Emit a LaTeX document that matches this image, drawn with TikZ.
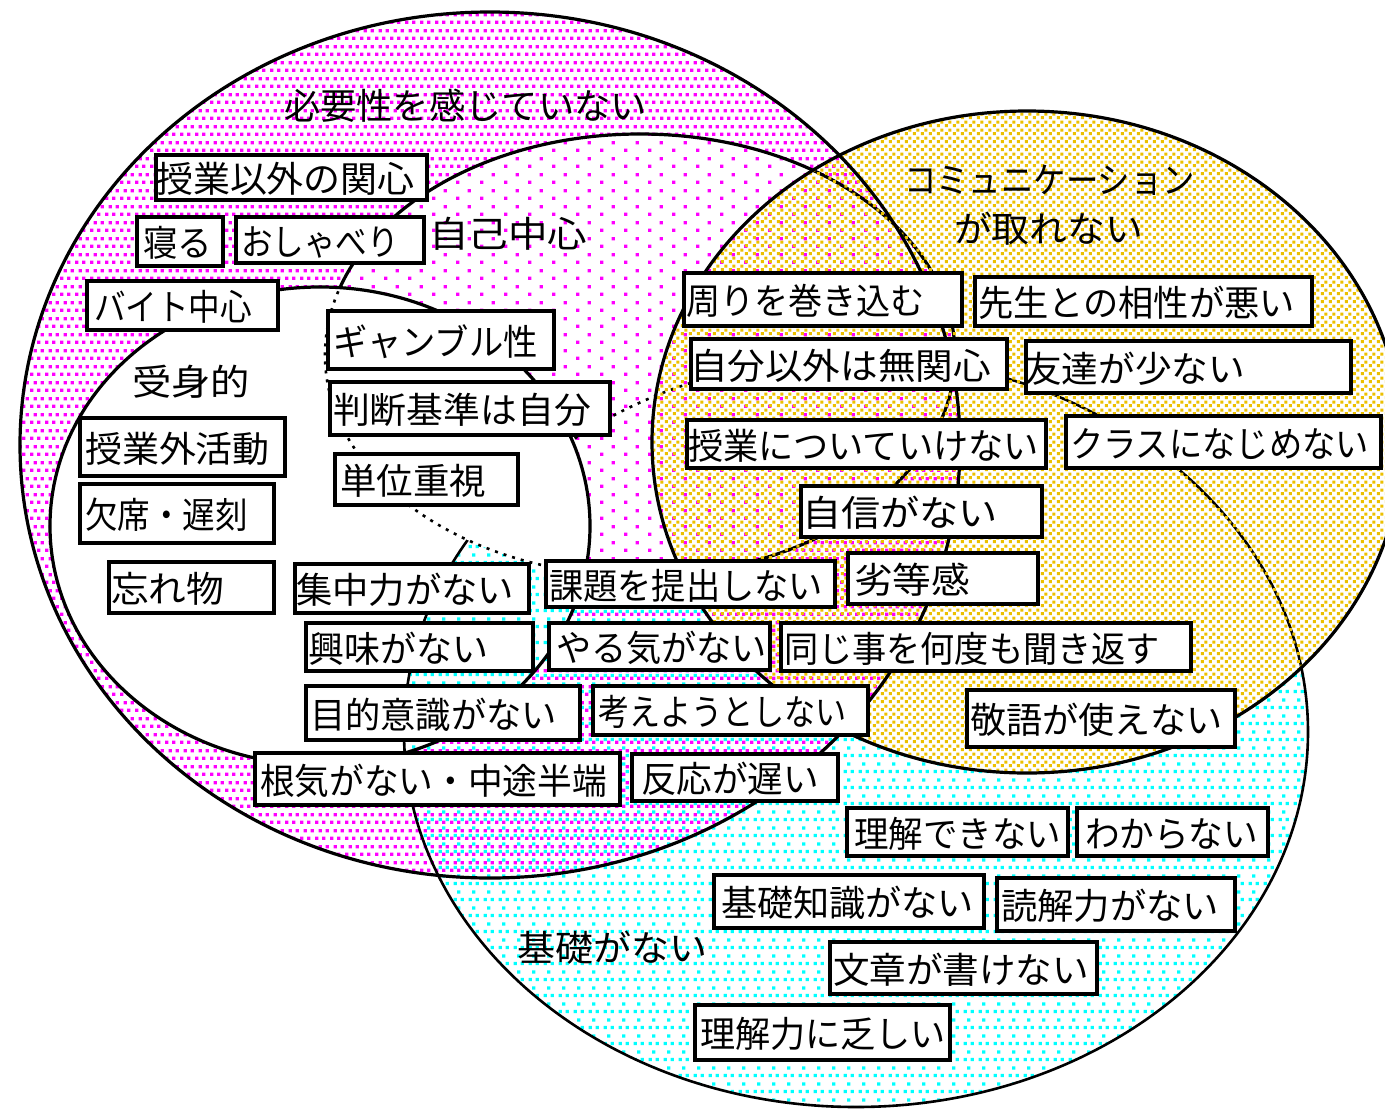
\documentclass[tikz,border=0pt]{standalone}
\usepackage{fontspec}
\usepackage{graphicx}
\newfontfamily\jp{Noto Sans CJK JP}
\usetikzlibrary{patterns}

\definecolor{magc}{RGB}{255,0,255}
\definecolor{cyac}{RGB}{0,255,255}
\definecolor{yelc}{RGB}{236,192,0}

\pgfdeclarepatternformonly{densedots}{\pgfpointorigin}{\pgfqpoint{15pt}{16pt}}{\pgfqpoint{15pt}{16pt}}{%
  \pgfpathrectangle{\pgfqpoint{0pt}{0pt}}{\pgfqpoint{3.6pt}{3.6pt}}%
  \pgfpathrectangle{\pgfqpoint{7.5pt}{0pt}}{\pgfqpoint{3.6pt}{3.6pt}}%
  \pgfpathrectangle{\pgfqpoint{3.75pt}{8pt}}{\pgfqpoint{3.6pt}{3.6pt}}%
  \pgfpathrectangle{\pgfqpoint{11.25pt}{8pt}}{\pgfqpoint{3.6pt}{3.6pt}}%
  \pgfusepath{fill}}
\pgfdeclarepatternformonly{cyandots}{\pgfpointorigin}{\pgfqpoint{15pt}{16pt}}{\pgfqpoint{15pt}{16pt}}{%
  \pgfpathrectangle{\pgfqpoint{3.75pt}{4pt}}{\pgfqpoint{3.6pt}{3.6pt}}%
  \pgfpathrectangle{\pgfqpoint{11.25pt}{4pt}}{\pgfqpoint{3.6pt}{3.6pt}}%
  \pgfpathrectangle{\pgfqpoint{7.5pt}{12pt}}{\pgfqpoint{3.6pt}{3.6pt}}%
  \pgfusepath{fill}}
\pgfdeclarepatternformonly{sparsedots}{\pgfpointorigin}{\pgfqpoint{24pt}{16pt}}{\pgfqpoint{24pt}{16pt}}{%
  \pgfpathrectangle{\pgfqpoint{0pt}{0pt}}{\pgfqpoint{3.6pt}{3.6pt}}%
  \pgfpathrectangle{\pgfqpoint{12pt}{8pt}}{\pgfqpoint{3.6pt}{3.6pt}}%
  \pgfusepath{fill}}
\pgfdeclarepatternformonly{yeldots}{\pgfpointorigin}{\pgfqpoint{8pt}{8pt}}{\pgfqpoint{8pt}{8pt}}{%
  \pgfpathrectangle{\pgfqpoint{1pt}{1pt}}{\pgfqpoint{3.4pt}{3.4pt}}%
  \pgfpathrectangle{\pgfqpoint{5pt}{5pt}}{\pgfqpoint{3.4pt}{3.4pt}}%
  \pgfusepath{fill}}

\tikzset{
  box/.style={rectangle, draw=black, line width=4pt, fill=white, inner sep=0pt, outer sep=0pt, anchor=north west},
  lbl/.style={inner sep=0pt, outer sep=0pt, anchor=base west, font=\jp\fontsize{36}{40}\selectfont},
  outl/.style={draw=black, line width=3.2pt},
  thinoutl/.style={draw=black, line width=2.6pt},
  dotoutl/.style={draw=black, line width=2.6pt, dash pattern=on 3pt off 6pt},
}

% name, x1, y1, x2, y2, text x, text width, text
\newcommand{\bx}[8]{%
  \node[box, minimum width={#4-#2-4}, minimum height={#5-#3-4}] (#1) at ({#2+2},{#3+2}) {};
  \node[lbl] (#1t) at (#6,{(#3+#5)/2+15}) {\resizebox{#7pt}{\height}{#8}};
}
% name, x, center y, width, text
\newcommand{\lb}[5]{%
  \node[lbl] (#1) at (#2,{#3+13.5}) {\resizebox{#4pt}{\height}{#5}};
}

\def\Eone{(490,445) ellipse (470pt and 433pt)}
\def\Etwo{(640,355) ellipse (315pt and 221pt)}
\def\Ew{(320,526) ellipse (270pt and 239pt)}
\def\Ey{(1027,442) ellipse (375pt and 331pt)}
\def\Ec{(856,732) ellipse (452pt and 375pt)}

\begin{document}
\begin{tikzpicture}[x=1pt,y=-1pt]
\useasboundingbox (0,0) rectangle (1385,1112);
\fill[white] (0,0) rectangle (1385,1112);
\clip (0,0) rectangle (1385,1112);

% fills and hidden-line handling
\fill[pattern=cyandots, pattern color=cyac] \Ec;
\fill[white] \Ey;
\fill[pattern=densedots, pattern color=magc] \Eone;
\draw[thinoutl] \Ec;
\fill[white] \Etwo;
\fill[pattern=sparsedots, pattern color=magc] \Etwo;
\begin{scope}
  \clip \Etwo;
  \draw[dotoutl] \Ec;
\end{scope}
\draw[outl] \Etwo;
\fill[white] \Ew;
\begin{scope}
  \clip \Ew;
  \fill[pattern=cyandots, pattern color=cyac] \Ec;
  \draw[thinoutl] \Ec;
  \fill[white] \Etwo;
  \draw[dotoutl] \Etwo;
\end{scope}
\fill[pattern=yeldots, pattern color=yelc] \Ey;
\draw[outl] \Eone;
\draw[outl] \Ew;
\draw[outl] \Ey;

% labels
\lb{l1}{284}{106}{363}{必要性を感じていない}
\lb{l2}{429}{234}{158}{自己中心}
\lb{l3}{132}{382}{118}{受身的}
\lb{l4}{904}{180}{291}{コミュニケーション}
\lb{l5}{954}{229}{189}{が取れない}
\lb{l6}{517}{948}{190}{基礎がない}

% boxes
\bx{b1}{154}{153}{429}{202}{156}{259}{授業以外の関心}
\bx{b2}{135}{215}{225}{268}{143}{69}{寝る}
\bx{b3}{234}{215}{426}{265}{241}{158}{おしゃべり}
\bx{b4}{85}{279}{280}{332}{94}{158}{バイト中心}
\bx{b5}{326}{309}{556}{371}{333}{205}{ギャンブル性}
\bx{b6}{328}{380}{612}{437}{333}{258}{判断基準は自分}
\bx{b7}{78}{416}{287}{478}{85}{185}{授業外活動}
\bx{b8}{333}{452}{520}{507}{340}{146}{単位重視}
\bx{b9}{78}{482}{276}{545}{85}{163}{欠席・遅刻}
\bx{b10}{107}{560}{276}{615}{111}{113}{忘れ物}
\bx{b11}{293}{562}{531}{615}{296}{218}{集中力がない}
\bx{b12}{304}{621}{535}{673}{308}{180}{興味がない}
\bx{b13}{304}{684}{582}{742}{310}{247}{目的意識がない}
\bx{b14}{253}{751}{622}{807}{260}{347}{根気がない・中途半端}
\bx{b15}{630}{752}{840}{803}{641}{178}{反応が遅い}
\bx{b16}{544}{559}{837}{609}{549}{274}{課題を提出しない}
\bx{b17}{846}{551}{1040}{606}{854}{116}{劣等感}
\bx{b18}{547}{621}{772}{672}{556}{211}{やる気がない}
\bx{b19}{779}{621}{1193}{673}{784}{376}{同じ事を何度も聞き返す}
\bx{b20}{591}{684}{870}{737}{598}{249}{考えようとしない}
\bx{b21}{965}{688}{1237}{749}{970}{253}{敬語が使えない}
\bx{b22}{845}{806}{1070}{858}{854}{207}{理解できない}
\bx{b23}{1075}{806}{1270}{858}{1085}{173}{わからない}
\bx{b24}{712}{873}{986}{930}{721}{253}{基礎知識がない}
\bx{b25}{995}{876}{1237}{933}{1001}{218}{読解力がない}
\bx{b26}{828}{940}{1099}{996}{833}{256}{文章が書けない}
\bx{b27}{693}{1003}{952}{1062}{700}{246}{理解力に乏しい}
\bx{b28}{682}{271}{964}{328}{686}{239}{周りを巻き込む}
\bx{b29}{973}{275}{1314}{328}{978}{317}{先生との相性が悪い}
\bx{b30}{689}{337}{1009}{391}{690}{301}{自分以外は無関心}
\bx{b31}{1024}{339}{1353}{395}{1025}{220}{友達が少ない}
\bx{b32}{685}{418}{1048}{470}{688}{351}{授業についていけない}
\bx{b33}{1064}{414}{1383}{470}{1070}{299}{クラスになじめない}
\bx{b34}{799}{484}{1044}{539}{802}{196}{自信がない}
\end{tikzpicture}
\end{document}
